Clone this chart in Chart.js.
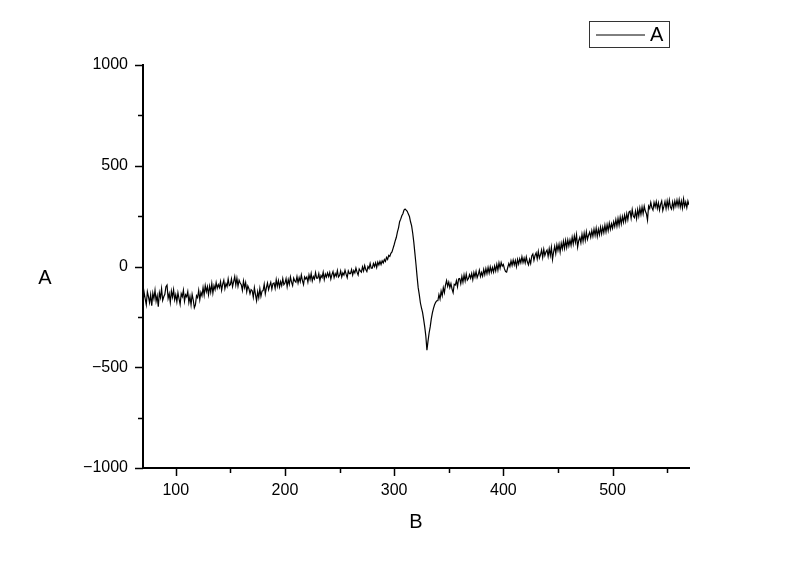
<!DOCTYPE html>
<html>
<head>
<meta charset="utf-8">
<script src="https://cdn.jsdelivr.net/npm/chart.js@4"></script>
<style>
  html, body { margin: 0; padding: 0; background: #ffffff; }
  #wrap { width: 800px; height: 561px; position: relative; }
</style>
</head>
<body>
<div id="wrap"><canvas id="c" width="800" height="561"></canvas></div>
<script>
// ---- data ----
const seriesName = "A";
const xTitle = "B";
const yTitle = "A";
const xTickValues = [100, 200, 300, 400, 500];
const xMinorTicks = [150, 250, 350, 450, 550];
const yTickValues = [-1000, -500, 0, 500, 1000];
const yMinorTicks = [-750, -250, 250, 750];

const fieldB = [
  70,71,72,73,74,75,76,77,78,79,80,81,82,83,84,85,86,87,88,89,90,91,92,93,94,
  95,96,97,98,99,100,101,102,103,104,105,106,107,108,109,110,111,112,113,114,115,116,117,118,119,
  120,121,122,123,124,125,126,127,128,129,130,131,132,133,134,135,136,137,138,139,140,141,142,143,144,
  145,146,147,148,149,150,151,152,153,154,155,156,157,158,159,160,161,162,163,164,165,166,167,168,169,
  170,171,172,173,174,175,176,177,178,179,180,181,182,183,184,185,186,187,188,189,190,191,192,193,194,
  195,196,197,198,199,200,201,202,203,204,205,206,207,208,209,210,211,212,213,214,215,216,217,218,219,
  220,221,222,223,224,225,226,227,228,229,230,231,232,233,234,235,236,237,238,239,240,241,242,243,244,
  245,246,247,248,249,250,251,252,253,254,255,256,257,258,259,260,261,262,263,264,265,266,267,268,269,
  270,271,272,273,274,275,276,277,278,279,280,281,282,283,284,285,286,287,288,289,290,291,292,293,294,
  295,296,297,298,299,300,301,302,303,304,305,306,307,308,309,310,311,312,313,314,315,316,317,318,319,
  320,321,322,323,324,325,326,327,328,329,330,331,332,333,334,335,336,337,338,339,340,341,342,343,344,
  345,346,347,348,349,350,351,352,353,354,355,356,357,358,359,360,361,362,363,364,365,366,367,368,369,
  370,371,372,373,374,375,376,377,378,379,380,381,382,383,384,385,386,387,388,389,390,391,392,393,394,
  395,396,397,398,399,400,401,402,403,404,405,406,407,408,409,410,411,412,413,414,415,416,417,418,419,
  420,421,422,423,424,425,426,427,428,429,430,431,432,433,434,435,436,437,438,439,440,441,442,443,444,
  445,446,447,448,449,450,451,452,453,454,455,456,457,458,459,460,461,462,463,464,465,466,467,468,469,
  470,471,472,473,474,475,476,477,478,479,480,481,482,483,484,485,486,487,488,489,490,491,492,493,494,
  495,496,497,498,499,500,501,502,503,504,505,506,507,508,509,510,511,512,513,514,515,516,517,518,519,
  520,521,522,523,524,525,526,527,528,529,530,531,532,533,534,535,536,537,538,539,540,541,542,543,544,
  545,546,547,548,549,550,551,552,553,554,555,556,557,558,559,560,561,562,563,564,565,566,567,568,569,
  570
];

const signalA = [
  -175,-128,-160,-190,-125,-150,-180,-140,-195,-132,
  -160,-118,-172,-145,-200,-130,-155,-110,-168,-150,
  -138,-100,-92,-158,-135,-178,-122,-152,-115,-165,
  -140,-175,-130,-160,-188,-135,-150,-118,-172,-140,
  -150,-125,-178,-148,-190,-138,-165,-205,-190,-145,
  -155,-118,-165,-128,-145,-105,-142,-95,-125,-100,
  -140,-98,-128,-85,-132,-95,-115,-80,-108,-90,
  -105,-75,-118,-88,-68,-110,-85,-100,-62,-95,
  -90,-62,-100,-75,-50,-92,-58,-98,-68,-82,
  -90,-118,-72,-105,-80,-125,-96,-110,-135,-115,
  -120,-152,-105,-140,-170,-125,-155,-110,-148,-122,
  -120,-88,-135,-105,-82,-115,-95,-78,-112,-85,
  -82,-108,-65,-98,-70,-102,-75,-95,-60,-90,
  -82,-60,-100,-65,-88,-52,-78,-95,-58,-72,
  -78,-50,-82,-55,-75,-42,-70,-90,-52,-62,
  -52,-78,-42,-65,-35,-72,-50,-62,-30,-58,
  -58,-35,-70,-45,-55,-28,-65,-38,-52,-32,
  -50,-30,-62,-40,-25,-55,-35,-48,-20,-52,
  -45,-22,-52,-32,-42,-18,-38,-55,-22,-35,
  -35,-15,-42,-20,-32,-8,-28,-42,-12,-22,
  -28,-2,-22,5,-15,-25,0,-10,15,-8,
  -8,15,0,18,-5,22,8,25,10,28,
  18,35,25,45,35,55,50,65,72,90,
  108,128,145,172,192,222,235,252,262,280,
  285,280,274,260,248,222,202,165,120,65,
  10,-50,-105,-140,-180,-205,-228,-262,-300,-345,
  -415,-370,-330,-300,-260,-230,-208,-190,-178,-170,
  -170,-140,-162,-122,-145,-105,-130,-92,-70,-98,
  -78,-105,-85,-112,-130,-88,-92,-70,-100,-62,
  -60,-85,-50,-78,-42,-72,-38,-68,-60,-40,
  -58,-35,-65,-30,-52,-25,-55,-40,-18,-50,
  -30,-48,-15,-40,-10,-35,-5,-32,-2,-28,
  -5,-28,2,-22,10,-18,18,-8,20,2,
  10,-12,-25,-28,-5,15,0,28,5,32,
  8,30,0,35,12,38,18,48,20,42,
  18,48,22,8,35,15,52,62,30,55,
  68,38,75,42,58,82,45,85,55,72,
  82,50,88,55,95,35,72,100,65,108,
  80,110,72,115,88,125,90,130,95,132,
  102,132,105,145,112,152,120,158,96,128,
  145,118,160,125,165,130,172,135,155,170,
  145,178,150,185,155,190,150,185,158,195,
  162,195,168,205,172,208,178,215,185,212,
  190,222,198,232,200,238,205,245,212,248,
  220,255,225,262,232,270,275,240,282,250,
  242,275,238,282,250,290,258,295,262,300,
  275,262,230,300,288,318,292,280,318,295,
  322,288,315,280,308,325,278,298,322,288,
  325,292,330,295,285,320,290,325,300,330,
  300,332,295,325,290,335,298,320,292,325,
  305
];

const points = fieldB.map((b, i) => ({ x: b, y: signalA[i] }));
const FONT = "'Liberation Sans', Arial, sans-serif";
const fmtTick = v => (v < 0 ? '\u2212' + String(-v) : String(v));

const decorPlugin = {
  id: 'decor',
  afterDraw(chart) {
    const ctx = chart.ctx;
    const xs = chart.scales.x, ys = chart.scales.y;
    const ca = chart.chartArea;
    ctx.save();
    ctx.strokeStyle = '#000';
    ctx.lineWidth = 1.5;
    xTickValues.forEach(v => {
      const p = Math.round(xs.getPixelForValue(v)) + 0.5;
      ctx.beginPath(); ctx.moveTo(p, ca.bottom); ctx.lineTo(p, ca.bottom + 8); ctx.stroke();
    });
    xMinorTicks.forEach(v => {
      const p = Math.round(xs.getPixelForValue(v)) + 0.5;
      ctx.beginPath(); ctx.moveTo(p, ca.bottom); ctx.lineTo(p, ca.bottom + 5); ctx.stroke();
    });
    yTickValues.forEach(v => {
      const p = Math.round(ys.getPixelForValue(v)) + 0.5;
      ctx.beginPath(); ctx.moveTo(ca.left, p); ctx.lineTo(ca.left - 8, p); ctx.stroke();
    });
    yMinorTicks.forEach(v => {
      const p = Math.round(ys.getPixelForValue(v)) + 0.5;
      ctx.beginPath(); ctx.moveTo(ca.left, p); ctx.lineTo(ca.left - 5, p); ctx.stroke();
    });
    ctx.fillStyle = '#000';
    ctx.font = '20px ' + FONT;
    ctx.textAlign = 'center';
    ctx.textBaseline = 'middle';
    ctx.fillText(xTitle, (ca.left + ca.right) / 2, 522);
    ctx.fillText(yTitle, 45, 278);
    ctx.lineWidth = 1;
    ctx.strokeStyle = '#333';
    ctx.strokeRect(589.5, 21.5, 80, 26);
    ctx.strokeStyle = '#000';
    ctx.beginPath(); ctx.moveTo(596, 35); ctx.lineTo(645, 35); ctx.stroke();
    ctx.textAlign = 'left';
    ctx.fillText(seriesName, 650, 35.5);
    ctx.restore();
  }
};

new Chart(document.getElementById('c'), {
  type: 'line',
  data: {
    datasets: [{
      label: seriesName,
      data: points,
      borderColor: '#000',
      borderWidth: 1.2,
      pointRadius: 0,
      tension: 0,
      fill: false
    }]
  },
  options: {
    responsive: false,
    animation: false,
    events: [],
    layout: { padding: { left: 0, right: 111, top: 65, bottom: 0 } },
    plugins: { legend: { display: false }, tooltip: { enabled: false }, title: { display: false } },
    scales: {
      x: {
        type: 'linear',
        min: 70, max: 570,
        grid: { display: false },
        border: { display: true, color: '#000', width: 2 },
        afterBuildTicks(scale) { scale.ticks = xTickValues.map(v => ({ value: v })); },
        afterFit(scale) { scale.height = 93; },
        ticks: { color: '#000', font: { family: FONT, size: 16 }, padding: 5, maxRotation: 0,
                 callback: fmtTick }
      },
      y: {
        type: 'linear',
        min: -1000, max: 1000,
        grid: { display: false },
        border: { display: true, color: '#000', width: 2 },
        afterBuildTicks(scale) { scale.ticks = yTickValues.map(v => ({ value: v })); },
        afterFit(scale) { scale.width = 143; },
        ticks: { color: '#000', font: { family: FONT, size: 16 }, padding: 7,
                 callback: fmtTick }
      }
    }
  },
  plugins: [decorPlugin]
});
</script>
</body>
</html>
